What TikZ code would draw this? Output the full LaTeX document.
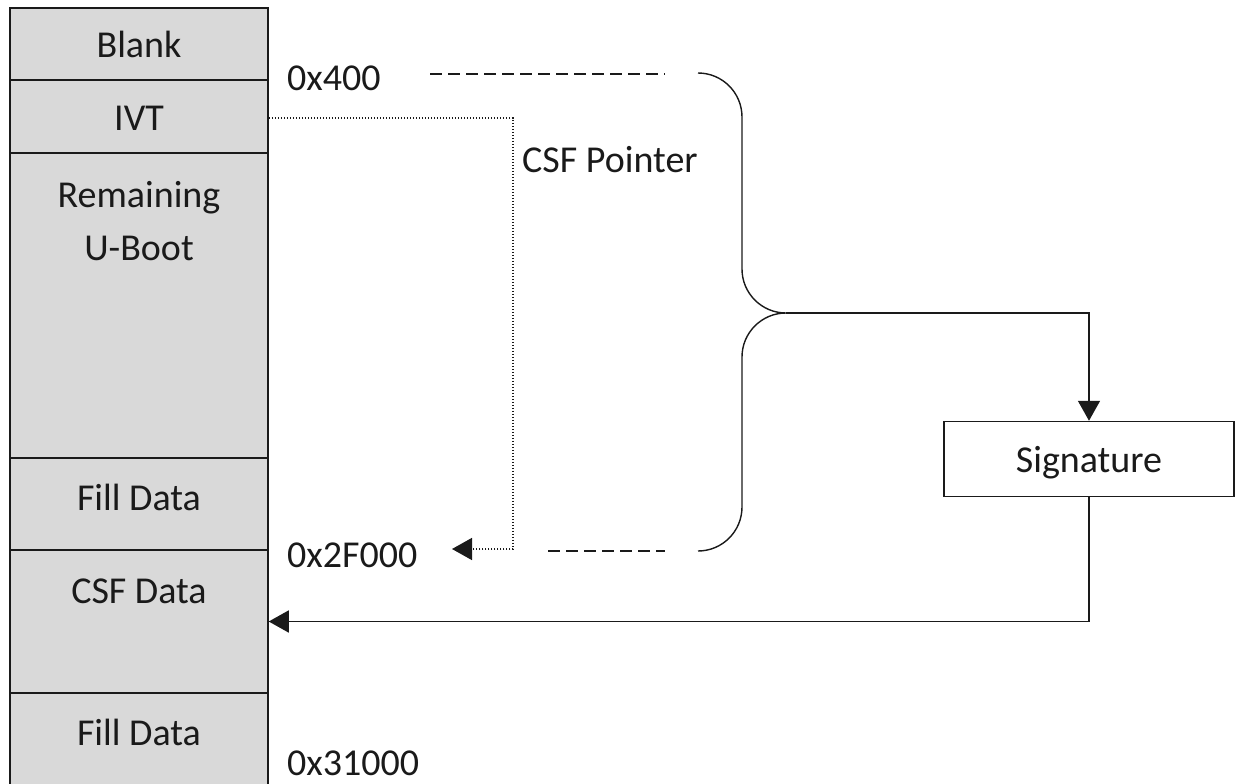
\documentclass[tikz,border=0pt]{standalone}
\usepackage{fontspec}
\setmainfont{Carlito}
\usetikzlibrary{arrows.meta}
\definecolor{cellgray}{HTML}{D9D9D9}
\definecolor{ink}{HTML}{1A1A1A}
\begin{document}
\begin{tikzpicture}[x=1pt,y=-1pt,
  font=\fontsize{38}{53}\selectfont,
  every node/.style={text=ink},
  row/.style={draw=ink,fill=cellgray,line width=1.5pt,minimum width=258pt,inner sep=0pt},
  lbl/.style={anchor=base,inner sep=0pt},
  addr/.style={anchor=base west,inner sep=0pt},
  solidline/.style={draw=ink,line width=1.6pt},
  dotline/.style={draw=ink,line width=1.5pt,dash pattern=on 1.5pt off 1.5pt},
  dashline/.style={draw=ink,line width=2.8pt,dash pattern=on 12pt off 6pt},
  tip/.style={-{Triangle[length=20pt,width=22pt]}}
]
\useasboundingbox (0,0) rectangle (1235,784);
% memory stack
\node[row,minimum height=72pt] (blank) at (139,44) {};
\node[row,minimum height=73pt] (ivt) at (139,116.5) {};
\node[row,minimum height=305pt] (remu) at (139,305.5) {};
\node[row,minimum height=92pt] (fill1) at (139,504) {};
\node[row,minimum height=143pt] (csf) at (139,621.5) {};
\node[row,minimum height=120pt] (fill2) at (139,753) {};
% stack labels
\node[lbl] (tblank) at (139,58) {Blank};
\node[lbl] (tivt) at (139,131) {IVT};
\node[lbl] (trem) at (139,207) {Remaining};
\node[lbl] (tuboot) at (139,260) {U-Boot};
\node[lbl] (tfill1) at (139,510) {Fill Data};
\node[lbl] (tcsf) at (139,603) {CSF Data};
\node[lbl] (tfill2) at (139,745) {Fill Data};
% addresses
\node[addr] (a400) at (287,91) {0x400};
\node[addr] (a2f) at (287,567) {0x2F000};
\node[addr] (a31) at (287,775) {0x31000};
\node[addr] (csfp) at (522,172) {CSF Pointer};
% dashed guides
\coordinate (d1a) at (430,74);
\coordinate (d1b) at (665,74);
\coordinate (d2a) at (548,551);
\coordinate (d2b) at (665,551);
\draw[dashline] (d1a) -- (d1b);
\draw[dashline] (d2a) -- (d2b);
% brace
\coordinate (btip) at (786,313);
\draw[solidline,line width=1.4pt] (698,73) .. controls (722.3,73) and (742,92.7) .. (742,117)
  -- (742,269) .. controls (742,293.3) and (761.7,313) .. (btip)
  .. controls (761.7,313) and (742,332.7) .. (742,357)
  -- (742,507) .. controls (742,531.3) and (722.3,551) .. (698,551);
% signature
\node[draw=ink,line width=1.5pt,minimum width=290pt,minimum height=75pt,inner sep=0pt] (sig) at (1089,459) {};
\node[lbl] (tsig) at (1089,472) {Signature};
\draw[solidline,tip] (btip) -| (sig.north);
\draw[solidline,tip] (sig.south) |- (csf.east);
% CSF pointer (dotted)
\coordinate (pturn) at (513,118);
\coordinate (pend) at (452,549);
\draw[dotline,tip] (ivt.east |- pturn) -- (pturn) |- (pend);
\end{tikzpicture}
\end{document}
